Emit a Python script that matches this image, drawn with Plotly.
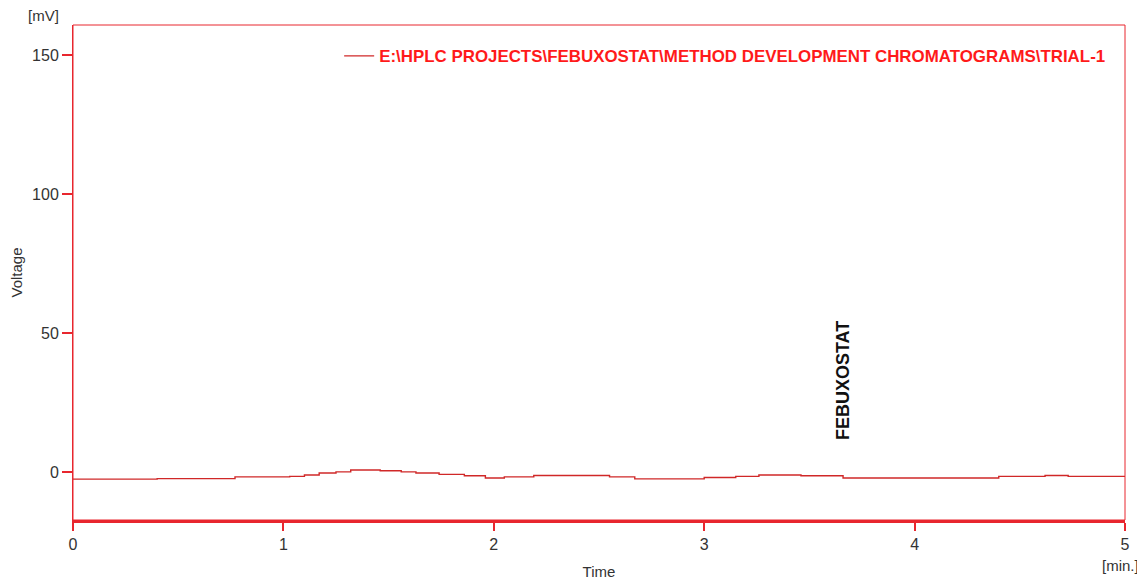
import plotly.graph_objects as go

# Chromatogram baseline (time in min, voltage in mV)
time_min = [0.00, 0.40, 0.77, 1.03, 1.10, 1.17, 1.25, 1.32, 1.46, 1.56, 1.63, 1.74,
            1.86, 1.96, 2.05, 2.19, 2.43, 2.55, 2.67, 2.98, 3.00, 3.15, 3.26, 3.46,
            3.66, 4.38, 4.40, 4.62, 4.73, 5.00]
voltage_mv = [-2.6, -2.4, -1.8, -1.6, -1.1, -0.4, 0.0, 0.7, 0.4, 0.0, -0.4, -0.9,
              -1.4, -2.2, -1.8, -1.3, -1.3, -1.8, -2.5, -2.5, -2.0, -1.6, -1.1, -1.4,
              -2.2, -2.2, -1.6, -1.3, -1.6, -1.6]

series_name = "E:\\HPLC PROJECTS\\FEBUXOSTAT\\METHOD DEVELOPMENT CHROMATOGRAMS\\TRIAL-1"
x_ticks = [0, 1, 2, 3, 4, 5]
y_ticks = [0, 50, 100, 150]
peak_label = "FEBUXOSTAT"
peak_time = 3.66
peak_label_y = 32.7

FONT = "Liberation Sans, Arial, sans-serif"
RED = "#e8262e"

fig = go.Figure()
fig.add_trace(go.Scatter(
    x=time_min, y=voltage_mv, mode="lines", line=dict(color="#d02828", width=1.4, shape="hv"),
    name=f"<b>{series_name}</b>",
))

fig.add_shape(type="rect", xref="paper", yref="paper", x0=0, x1=1, y0=0, y1=1,
              line=dict(color=RED, width=1), layer="above")

fig.add_annotation(x=peak_time, y=peak_label_y, xref="x", yref="y", text=f"<b>{peak_label}</b>",
                   textangle=-90, showarrow=False, font=dict(family=FONT, size=18, color="#111"))
fig.add_annotation(x=-0.0285, y=1.02, xref="paper", yref="paper", text="[mV]", showarrow=False,
                   xanchor="center", yanchor="middle", font=dict(family=FONT, size=15, color="#333"))
fig.add_annotation(x=0.976, y=-0.091, xref="paper", yref="paper", text="[min.]", showarrow=False,
                   xanchor="left", yanchor="middle", font=dict(family=FONT, size=15, color="#333"))

fig.update_layout(
    width=1145, height=586,
    margin=dict(l=65, r=28, t=17, b=74, autoexpand=False),
    paper_bgcolor="white", plot_bgcolor="white",
    font=dict(family=FONT, size=15, color="#333"),
    showlegend=True,
    legend=dict(x=0.253, y=0.973, xanchor="left", yanchor="top", bgcolor="rgba(0,0,0,0)",
                font=dict(family=FONT, size=16.9, color="#ff1a1a")),
    xaxis=dict(range=[0, 5], tickvals=x_ticks, showgrid=False, zeroline=False, automargin=False,
               showline=True, linecolor=RED, linewidth=3, ticks="outside", ticklen=8,
               tickwidth=1.5, tickcolor=RED, tickfont=dict(size=16, color="#333"),
               title=dict(text="Time", standoff=15, font=dict(size=15, color="#333"))),
    yaxis=dict(range=[-17.3, 160.8], tickvals=y_ticks, showgrid=False, zeroline=False, automargin=False,
               showline=True, linecolor=RED, linewidth=1, ticks="outside", ticklen=10,
               tickwidth=1.5, tickcolor=RED, tickfont=dict(size=16, color="#333"),
               title=dict(text="Voltage", standoff=7, font=dict(size=15, color="#333"))),
)

fig.write_html("out.html")
